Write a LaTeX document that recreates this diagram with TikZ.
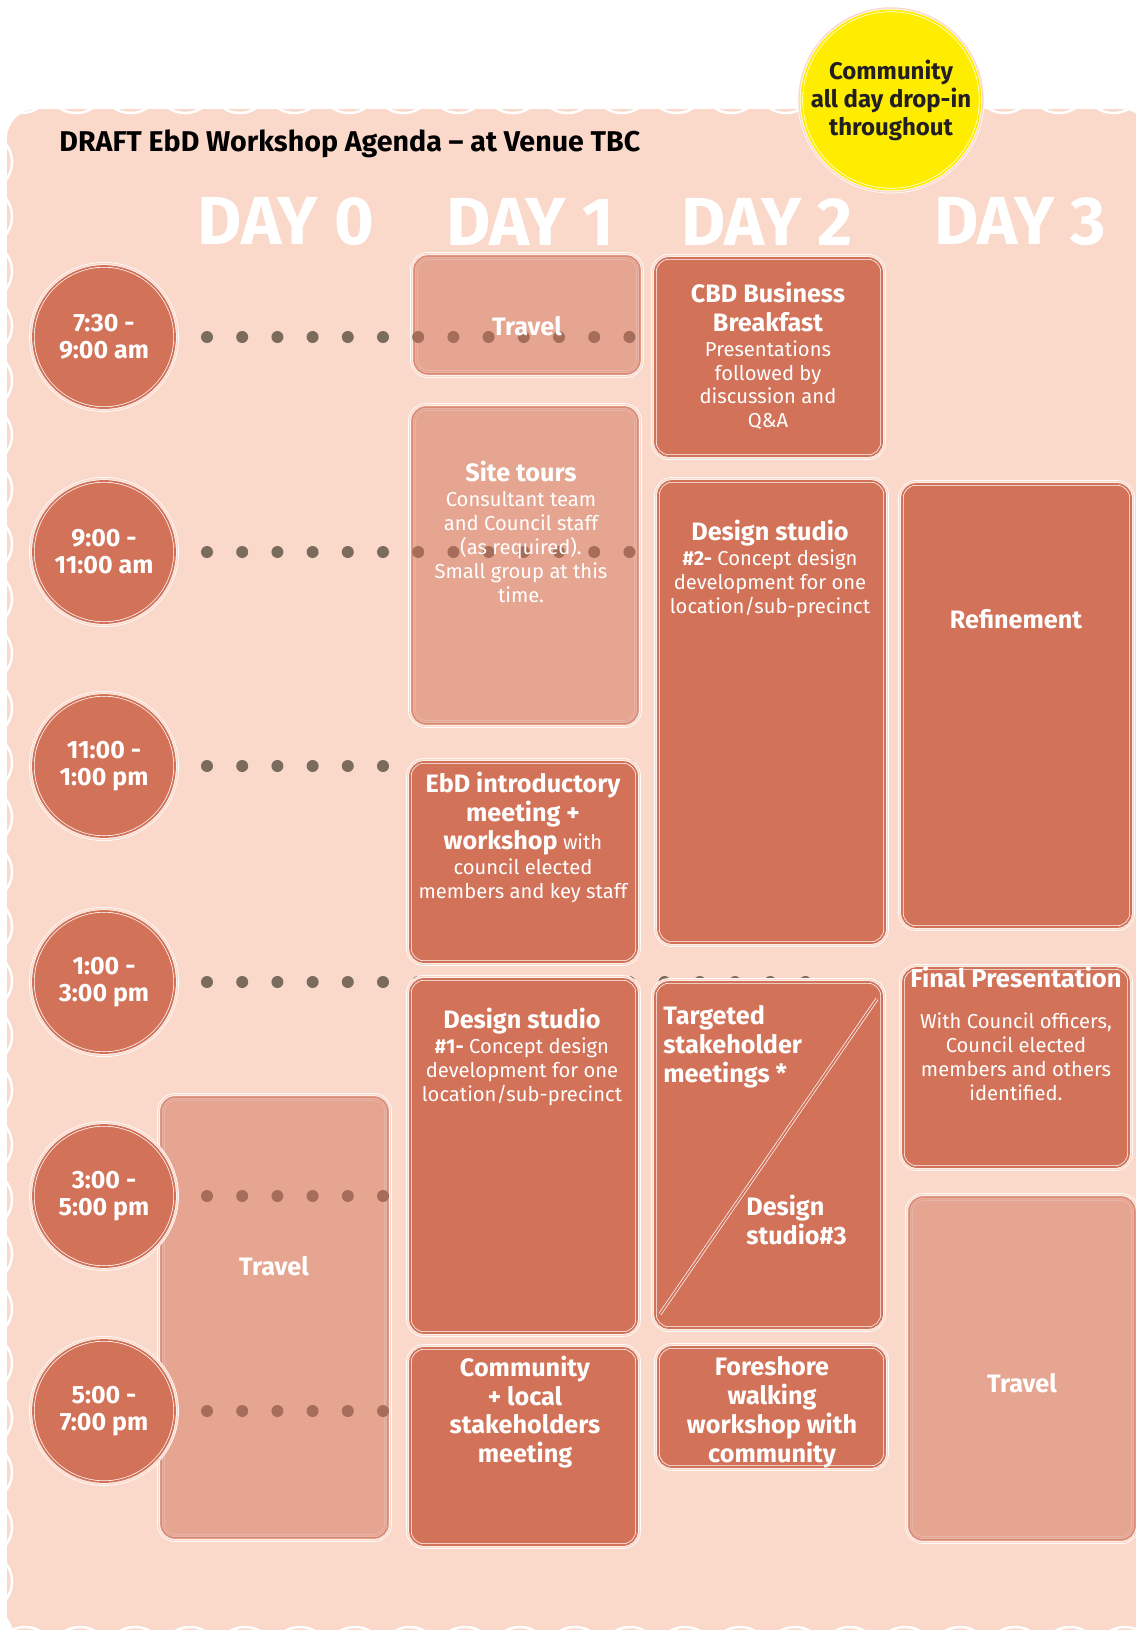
\documentclass[tikz,border=0pt]{standalone}
\usepackage{fontspec}
\setmainfont{Fira Sans}
\usetikzlibrary{fit, positioning}

\definecolor{bgpink}{HTML}{FAD9CB}
\definecolor{terra}{HTML}{D27259}
\definecolor{lightterra}{HTML}{E5A592}
\definecolor{dotgray}{HTML}{7A6B5D}
\definecolor{dropyellow}{HTML}{FFED00}
\definecolor{inkdark}{HTML}{231F20}

\newcommand{\slottitle}[1]{{\bfseries\fontsize{12.6}{11.9}\selectfont #1}}
\newcommand{\tightlines}{\lineskiplimit-100pt\relax}

\tikzset{
  rings/.style={draw=white, line width=0.35pt, double=#1, double distance=0.9pt,
        preaction={draw=white, line width=0.35pt, double=bgpink, double distance=3.2pt}},
  slot/.style={rings=terra, fill=terra, rounded corners=7pt, inner sep=0pt},
  lightslot/.style={rings=lightterra, rounded corners=7pt, inner sep=0pt},
  lightfill/.style={fill=terra, fill opacity=0.5, rounded corners=7pt},
  timeslot/.style={circle, rings=terra, fill=terra, minimum size=71pt, inner sep=0pt,
        text=white, align=center,
        font=\bfseries\fontsize{12.5}{13.5}\selectfont\tightlines},
  dropin/.style={circle, rings=dropyellow, fill=dropyellow, minimum size=89pt,
        inner sep=0pt, text=inkdark, align=center,
        font=\bfseries\fontsize{12}{14}\selectfont\tightlines},
  dayhead/.style={text=white, inner sep=0pt, font=\bfseries\fontsize{34}{38}\selectfont},
  slotbody/.style={text=white, align=center, inner sep=0pt,
        font=\fontsize{10.1}{11.9}\selectfont\tightlines},
  scallop/.style={draw=white, line width=1.25pt},
}

\begin{document}
\begin{tikzpicture}[x=0.5pt, y=-0.5pt]
  \useasboundingbox[fill=white] (0,0) rectangle (1136,1630);
  \fill[bgpink, rounded corners=15pt] (7,109) rectangle (1150,1645);
  \foreach \k in {-1,...,20}
    \draw[scallop] ({76+54.6*\k},83) circle (15pt);
  \foreach \k in {-1,...,27}
    \draw[scallop] (-18,{162+54.6*\k}) circle (15pt);
  \foreach \k in {0,...,20}
    \draw[scallop] ({25+55*\k},1657) circle (15pt);

  \node[anchor=base west, inner sep=0pt, text=black,
        font=\bfseries\fontsize{14.3}{16}\selectfont]
       (title) at (59,151) {DRAFT EbD Workshop Agenda \textendash{} at Venue TBC};

  \node[dayhead] (day0) at (286,222) {DAY 0};
  \node[dayhead] (day1) at (530,222) {DAY 1};
  \node[dayhead] (day2) at (767,222) {DAY 2};
  \node[dayhead] (day3) at (1020,222) {DAY 3};

  \node[lightslot, fit={(161,1097) (388,1538)}] (d0travel) {};
  \node[lightslot, fit={(414,256) (640,374)}] (d1travel) {};
  \node[lightslot, fit={(412,407) (638,724)}] (d1tours) {};
  \node[lightslot, fit={(909,1197) (1135,1540)}] (d3travel) {};

  \foreach \y/\n in {337/13, 552/13, 766/13, 982/18, 1196/13, 1411/13}
    \foreach \k in {1,...,\n}
      \fill[dotgray] ({207+35.2*(\k-1)},\y) circle (3pt);

  \foreach \b in {d0travel, d1travel, d1tours, d3travel}
    \fill[lightfill] (\b.north west) rectangle (\b.south east);

  \node[slot, fit={(410,762) (637,962)}] (d1intro) {};
  \node[slot, fit={(410,979) (637,1333)}] (d1studio) {};
  \node[slot, fit={(410,1348) (637,1545)}] (d1community) {};
  \node[slot, fit={(655,258) (882,456)}] (d2breakfast) {};
  \node[slot, fit={(658,481) (885,943)}] (d2studio) {};
  \node[slot, fit={(655,982) (882,1328)}] (d2split) {};
  \node[slot, fit={(658,1347) (885,1467)}] (d2foreshore) {};
  \node[slot, fit={(902,484) (1131,927)}] (d3refine) {};
  \node[slot, fit={(903,968) (1129,1167)}] (d3final) {};

  \draw[white, line width=0.35pt, double=terra, double distance=0.9pt]
       (660,1314) -- (877,999);

  \node[timeslot] (t730) at (104,337) {7:30 -\\9:00 am};
  \node[timeslot] (t900) at (104,552) {9:00 -\\11:00 am};
  \node[timeslot] (t1100) at (104,766) {11:00 -\\1:00 pm};
  \node[timeslot] (t100) at (104,982) {1:00 -\\3:00 pm};
  \node[timeslot] (t300) at (104,1196) {3:00 -\\5:00 pm};
  \node[timeslot] (t500) at (104,1411) {5:00 -\\7:00 pm};

  \node[slotbody] (d0traveltext) at (274,1266) {\slottitle{Travel}};
  \node[slotbody] (d1traveltext) at (527,326) {\slottitle{Travel}};
  \node[slotbody, anchor=north] (d1tourstext) at (521,461)
       {\slottitle{Site tours}\\[0.6pt]Consultant team\\and Council staff\\(as required).\\Small group at this\\time.};
  \node[slotbody, anchor=north] (d1introtext) at (523,772)
       {\slottitle{EbD introductory}\\[2.3pt]\slottitle{meeting +}\\[2.3pt]\slottitle{workshop} with\\[0.6pt]council elected\\members and key staff};
  \node[slotbody, anchor=north] (d1studiotext) at (522,1008)
       {\slottitle{Design studio}\\[0.6pt]{\bfseries\#1-} Concept design\\development for one\\location/sub-precinct};
  \node[slotbody, anchor=north] (d1communitytext) at (525,1356)
       {\slottitle{Community}\\[2.3pt]\slottitle{+ local}\\[2.3pt]\slottitle{stakeholders}\\[2.3pt]\slottitle{meeting}};
  \node[slotbody, anchor=north] (d2breakfasttext) at (768,282)
       {\slottitle{CBD Business}\\[2.3pt]\slottitle{Breakfast}\\[0.6pt]Presentations\\followed by\\discussion and\\Q\&A};
  \node[slotbody, anchor=north] (d2studiotext) at (770,520)
       {\slottitle{Design studio}\\[0.6pt]{\bfseries\#2-} Concept design\\development for one\\location/sub-precinct};
  \node[slotbody, anchor=north west, align=left] (d2targeted) at (663,1005)
       {\slottitle{Targeted}\\[2.6pt]\slottitle{stakeholder}\\[2.6pt]\slottitle{meetings *}};
  \node[slotbody, anchor=north west, align=left] (d2design) at (746,1195)
       {\slottitle{Design}\\[2.6pt]\slottitle{studio\#3}};
  \node[slotbody, anchor=north] (d2foreshoretext) at (772,1356)
       {\slottitle{Foreshore}\\[2.6pt]\slottitle{walking}\\[2.6pt]\slottitle{workshop with}\\[2.6pt]\slottitle{community}};
  \node[slotbody] (d3refinetext) at (1016,619) {\slottitle{Refinement}};
  \node[slotbody, anchor=north] (d3finaltext) at (1016,966)
       {{\bfseries\fontsize{12.8}{11.9}\selectfont Final Presentation}\\[8.9pt]With Council officers,\\Council elected\\members and others\\identified.};
  \node[slotbody] (d3traveltext) at (1022,1383) {\slottitle{Travel}};

  \node[dropin] (dropin) at (891,100) {Community\\all day drop-in\\throughout};
\end{tikzpicture}
\end{document}
